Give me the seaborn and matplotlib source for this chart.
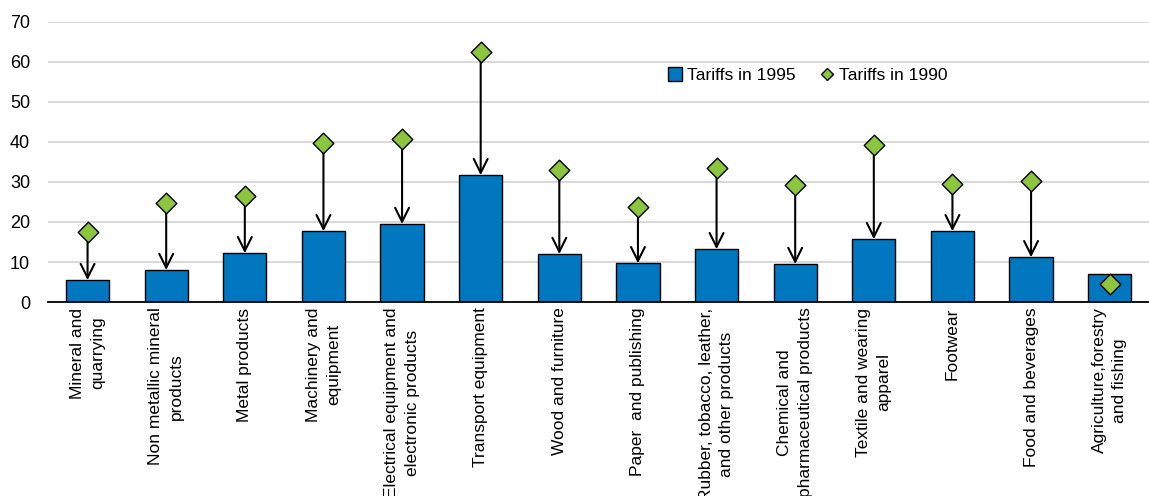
import numpy as np
import pandas as pd
import matplotlib
matplotlib.use("Agg")
import matplotlib.pyplot as plt
import seaborn as sns
from matplotlib.patches import Patch
from matplotlib.lines import Line2D

# --- data ---
sectors = [
    "Mineral and\nquarrying",
    "Non metallic mineral\nproducts",
    "Metal products",
    "Machinery and\nequipment",
    "Electrical equipment and\nelectronic products",
    "Transport equipment",
    "Wood and furniture",
    "Paper  and publishing",
    "Rubber, tobacco, leather,\nand other products",
    "Chemical and\npharmaceutical products",
    "Textile and wearing\napparel",
    "Footwear",
    "Food and beverages",
    "Agriculture,forestry\nand fishing",
]
tariffs_1995 = [5.5, 8.0, 12.2, 17.7, 19.5, 31.7, 12.0, 9.7, 13.2, 9.5, 15.7, 17.7, 11.2, 7.0]
tariffs_1990 = [17.5, 24.8, 26.5, 39.7, 40.7, 62.5, 33.0, 23.7, 33.5, 29.2, 39.2, 29.5, 30.2, 4.5]

BLUE = "#0077BF"
GREEN = "#8CC63F"

df = pd.DataFrame({"sector": sectors, "t1995": tariffs_1995, "t1990": tariffs_1990})

sns.set_style("white")
plt.rcParams["font.family"] = ["Liberation Sans", "DejaVu Sans"]
plt.rcParams["font.size"] = 12
plt.rcParams["text.color"] = "black"
plt.rcParams["xtick.color"] = "black"
plt.rcParams["ytick.color"] = "black"

fig = plt.figure(figsize=(11.49, 4.96), dpi=100)
ax = fig.add_axes([0.042, 0.391, 0.958, 0.565])

sns.barplot(data=df, x="sector", y="t1995", color=BLUE, width=0.55,
            edgecolor="black", linewidth=1.0, saturation=1, ax=ax, zorder=2)

# arrows from the 1990 level down to the 1995 level
for i, row in df.iterrows():
    if row["t1990"] > row["t1995"]:
        ax.annotate("", xy=(i, row["t1995"]), xytext=(i, row["t1990"]),
                    arrowprops=dict(arrowstyle="->", lw=1.5, color="black",
                                    shrinkA=7, shrinkB=0, mutation_scale=25),
                    zorder=3)

ax.scatter(np.arange(len(df)), df["t1990"], marker="D", s=110, color=GREEN,
           edgecolor="black", linewidth=1.0, zorder=4, clip_on=False)

ax.set_ylim(0, 70)
ax.set_xlim(-0.5, 13.33)
ax.set_yticks(range(0, 71, 10))
ax.yaxis.grid(True, color="#D9D9D9", linewidth=1.5)
ax.set_axisbelow(True)
for s in ["top", "right", "left"]:
    ax.spines[s].set_visible(False)
ax.spines["bottom"].set_color("black")
ax.spines["bottom"].set_linewidth(1.3)
ax.spines["bottom"].set_zorder(5)

ax.set_xticks(np.arange(len(df)))
ax.set_xticklabels(sectors, rotation=90, ha="center", va="top",
                   multialignment="center", linespacing=1.45)
ax.tick_params(axis="x", length=0, pad=4, labelsize=12.5)
ax.tick_params(axis="y", length=0, pad=13, labelsize=13)
# boundary ticks between categories
ax.set_xticks(np.arange(len(df)) + 0.5, minor=True)
ax.tick_params(axis="x", which="minor", direction="in", length=6, width=1.3, color="black")

ax.set_xlabel("")
ax.set_ylabel("")

handles = [
    Patch(facecolor=BLUE, edgecolor="black", linewidth=1.0, label="Tariffs in 1995"),
    Line2D([], [], marker="D", linestyle="none", markersize=6, markerfacecolor=GREEN,
           markeredgecolor="black", label="Tariffs in 1990"),
]
ax.legend(handles=handles, loc="center left", bbox_to_anchor=(0.549, 0.81), ncol=2,
          frameon=False, fontsize=12.5, handlelength=0.8, handleheight=0.8,
          handletextpad=0.3, columnspacing=1.4)

fig.savefig("out.png", dpi=100)
